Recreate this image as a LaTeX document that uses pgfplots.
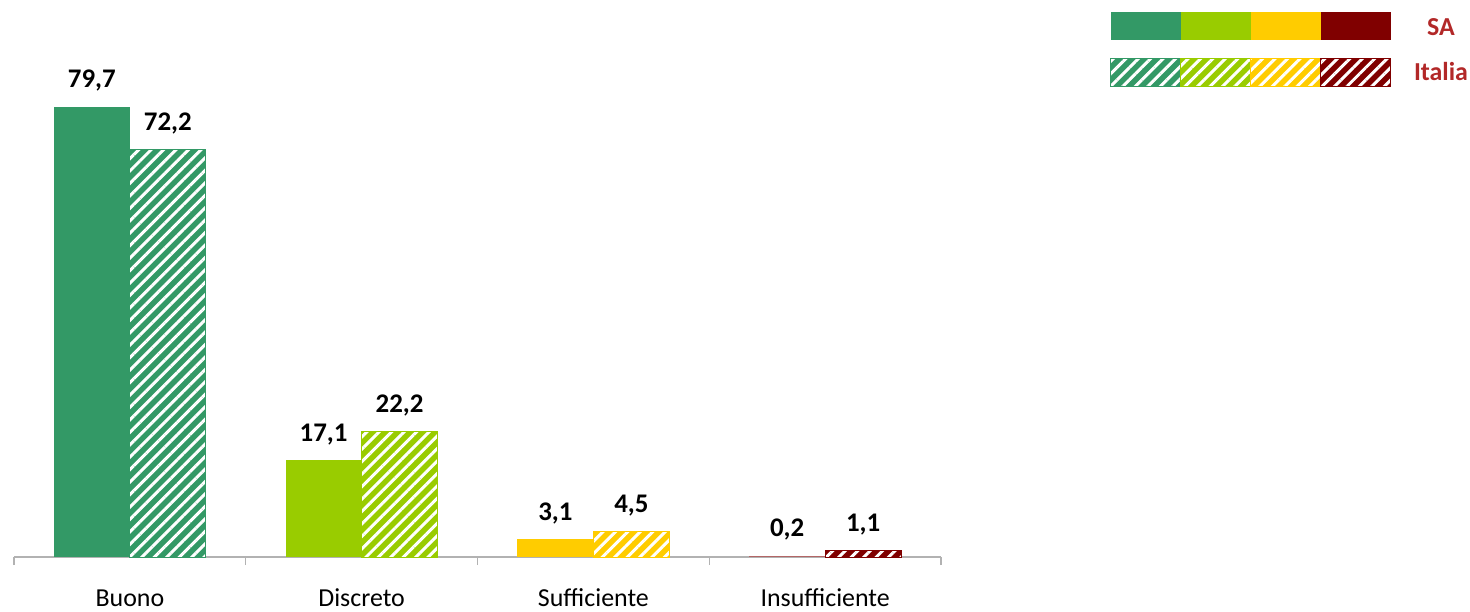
\documentclass[border=0pt]{standalone}
\usepackage{pgfplots}
\pgfplotsset{compat=1.18}
\usepackage{fontspec}
\setmainfont{Carlito}
\usetikzlibrary{patterns.meta}
\definecolor{cG}{RGB}{51,153,102}
\definecolor{cL}{RGB}{153,204,0}
\definecolor{cY}{RGB}{255,204,0}
\definecolor{cR}{RGB}{128,0,0}
\definecolor{txtR}{RGB}{178,40,40}
\tikzset{
  solidbar/.style={fill=#1, draw=none},
  hatchbar/.style={preaction={fill=#1}, pattern={Lines[angle=45,distance=4.4bp,line width=1.5bp]}, pattern color=white, draw=#1, line width=0.5bp},
}
\begin{document}
\begin{tikzpicture}
\path[use as bounding box] (0,0) rectangle (735bp,306bp);
\begin{axis}[
  at={(7bp,27.5bp)}, anchor=south west,
  scale only axis, width=463.5bp, height=254.1bp,
  xmin=-0.5, xmax=3.5, ymin=0, ymax=90,
  ybar, bar width=38bp,
  axis y line=none, axis x line*=bottom,
  x axis line style={draw=gray!60, line width=0.6bp, -},
  xtick={0,1,2,3},
  xticklabels={Buono,Discreto,Sufficiente,Insufficiente},
  major tick length=0pt,
  extra x ticks={-0.5,0.5,1.5,2.5,3.5},
  extra x tick labels={},
  extra x tick style={major tick length=4bp, tick align=outside, tick style={draw=gray!60, line width=0.6bp}},
  xticklabel style={font=\fontsize{13}{15}\selectfont, anchor=base, yshift=-24.5bp},
  clip=false,
  /pgf/number format/assume math mode=true,
  nodes near coords={\pgfmathprintnumber[fixed,fixed zerofill,precision=1,use comma,assume math mode=true]{\pgfplotspointmeta}},
  every node near coord/.append style={font=\bfseries\fontsize{13.5}{15}\selectfont, anchor=center, yshift=13bp, text=black},
]
\addplot[solidbar=cG, bar shift=-19bp] coordinates {(0,79.7)};
\addplot[hatchbar=cG, bar shift=19bp] coordinates {(0,72.2)};
\addplot[solidbar=cL, bar shift=-19bp] coordinates {(1,17.1)};
\addplot[hatchbar=cL, bar shift=19bp] coordinates {(1,22.2)};
\addplot[solidbar=cY, bar shift=-19bp] coordinates {(2,3.1)};
\addplot[hatchbar=cY, bar shift=19bp] coordinates {(2,4.5)};
\addplot[solidbar=cR!60, bar shift=-19bp] coordinates {(3,0.2)};
\addplot[hatchbar=cR, bar shift=19bp] coordinates {(3,1.1)};
\end{axis}
\begin{scope}[x=0.5bp,y=0.5bp]
\fill[cG] (1111,572) rectangle (1181,600);
\fill[cL] (1181,572) rectangle (1251,600);
\fill[cY] (1251,572) rectangle (1321,600);
\fill[cR] (1321,572) rectangle (1391,600);
\path[hatchbar=cG] (1111,526) rectangle (1181,554);
\path[hatchbar=cL] (1181,526) rectangle (1251,554);
\path[hatchbar=cY] (1251,526) rectangle (1321,554);
\path[hatchbar=cR] (1321,526) rectangle (1391,554);
\node[font=\bfseries\fontsize{13}{15}\selectfont, text=txtR] at (1441,585) {SA};
\node[font=\bfseries\fontsize{13}{15}\selectfont, text=txtR] at (1441,541) {Italia};
\end{scope}
\end{tikzpicture}
\end{document}
